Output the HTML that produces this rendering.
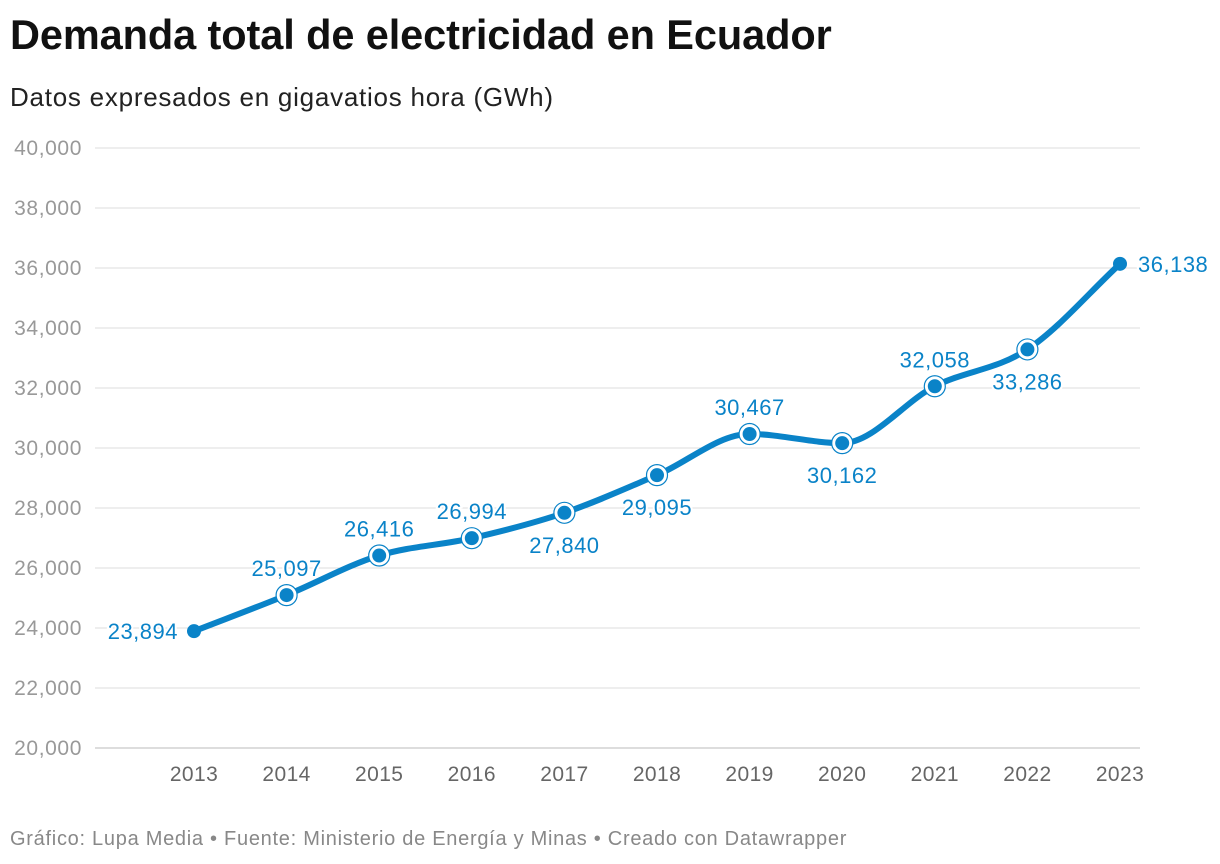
<!DOCTYPE html>
<html><head><meta charset="utf-8"><style>
body{margin:0;background:#fff;font-family:"Liberation Sans",Arial,sans-serif;}
#wrap{position:relative;width:1220px;height:864px;}
h1{position:absolute;left:10px;top:11px;margin:0;font-size:41.5px;font-weight:bold;color:#111;letter-spacing:-0.1px}
.sub{position:absolute;left:10px;top:82px;font-size:26px;color:#222;letter-spacing:0.75px}
.foot{position:absolute;left:10px;top:828px;font-size:20px;color:#888;letter-spacing:0.72px}
svg{position:absolute;left:0;top:0}
</style></head><body><div id="wrap">
<h1>Demanda total de electricidad en Ecuador</h1>
<div class="sub">Datos expresados en gigavatios hora (GWh)</div>
<svg id="c" width="1220" height="864"></svg>
<div class="foot">Gráfico: Lupa Media • Fuente: Ministerio de Energía y Minas • Creado con Datawrapper</div>
</div>
<script>
const years=[2013,2014,2015,2016,2017,2018,2019,2020,2021,2022,2023];
const values=[23894,25097,26416,26994,27840,29095,30467,30162,32058,33286,36138];
const labelPos=["left","above","above","above","below","below","above","below","above","below","right"];
const yTicks=[20000,22000,24000,26000,28000,30000,32000,34000,36000,38000,40000];
const NS="http://www.w3.org/2000/svg";
const svg=document.getElementById('c');
const x=i=>194+(1120-194)*(years[i]-years[0])/(years[years.length-1]-years[0]);
const y=v=>748-(v-20000)*(600/20000);
const fmt=v=>v.toLocaleString('en-US');
function mk(t,a,p){const e=document.createElementNS(NS,t);for(const k in a)e.setAttribute(k,a[k]);(p||svg).appendChild(e);return e;}
yTicks.forEach(t=>{
 const l=mk('line',{x1:95,x2:1140,y1:y(t),y2:y(t),stroke:t===20000?'#bbb':'#ddd','stroke-width':1});
 
 
 const tx=mk('text',{x:82,y:y(t)+7,'text-anchor':'end','font-size':21,fill:'#999','letter-spacing':0.6});
 tx.textContent=fmt(t);
 
 
});
years.forEach((yr,i)=>{
 const tx=mk('text',{x:x(i),y:781,'text-anchor':'middle','font-size':21,fill:'#666','letter-spacing':0.4});
 tx.textContent=yr;
 
 
});
const P=values.map((v,i)=>[x(i),y(v)]);
const n=P.length,d=[],m=[];
for(let i=0;i<n-1;i++)d.push((P[i+1][1]-P[i][1])/(P[i+1][0]-P[i][0]));
m[0]=d[0];m[n-1]=d[n-2];
for(let i=1;i<n-1;i++){m[i]=(d[i-1]*d[i]<=0)?0:(d[i-1]+d[i])/2;}
let path=`M${P[0][0]},${P[0][1]}`;
for(let i=0;i<n-1;i++){const h=(P[i+1][0]-P[i][0])/3;
 path+=` C${P[i][0]+h},${P[i][1]+m[i]*h} ${P[i+1][0]-h},${P[i+1][1]-m[i+1]*h} ${P[i+1][0]},${P[i+1][1]}`;}
const ln=mk('path',{d:path,fill:'none',stroke:'#0a83c8','stroke-width':6,'stroke-linecap':'round'});


values.forEach((v,i)=>{
 const cx=x(i),cy=y(v);
 if(i>0&&i<n-1){const r=mk('circle',{cx,cy,r:10.5,fill:'#fff',stroke:'#0a83c8','stroke-width':1.2});
  
  }
 const c=mk('circle',{cx,cy,r:7,fill:'#0a83c8'});
 
 
 const p=labelPos[i];let lx=cx,ly=cy,a='middle';
 if(p==='above')ly=cy-19;else if(p==='below')ly=cy+40;else if(p==='left'){lx=cx-16;ly=cy+8;a='end';}else{lx=cx+18;ly=cy+8;a='start';}
 const t=mk('text',{x:lx,y:ly,'text-anchor':a,'font-size':22,fill:'#0a83c8',stroke:'#fff','stroke-width':4,'paint-order':'stroke','letter-spacing':0.5});
 t.textContent=fmt(v);
 
 
});
</script></body></html>
